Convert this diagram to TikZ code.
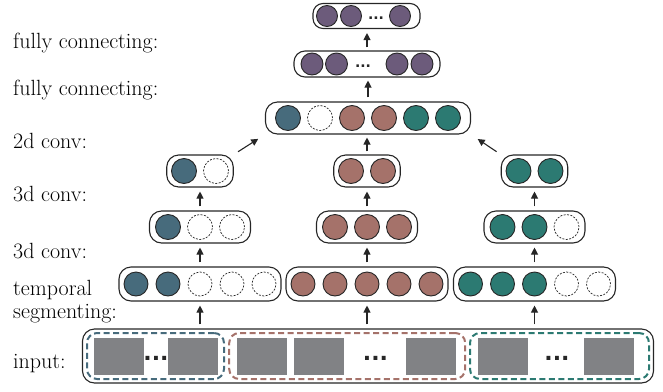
\documentclass[tikz,border=0pt]{standalone}
\usepackage{fontspec}
\usetikzlibrary{arrows.meta,positioning}

\newfontfamily\dotfont{DejaVu Sans}
\definecolor{cblue}{HTML}{476B7C}
\definecolor{cbrown}{HTML}{A5726A}
\definecolor{cteal}{HTML}{2C7A72}
\definecolor{cpurple}{HTML}{6C5B7B}
\definecolor{cgray}{HTML}{818285}
\definecolor{cline}{HTML}{262626}

\tikzset{
  cell/.style={circle, draw=cline, line width=0.9pt, inner sep=0pt, minimum size=25pt},
  bcell/.style={cell, fill=cblue},
  rcell/.style={cell, fill=cbrown},
  gcell/.style={cell, fill=cteal},
  pcell/.style={cell, fill=cpurple},
  ocell/.style={cell, dash pattern=on 2pt off 1.4pt, line width=0.7pt, fill=white},
  row/.style={draw=cline, line width=1.1pt, rounded corners=12pt, minimum height=32pt, inner sep=0pt},
  segbox/.style={dash pattern=on 6pt off 3.5pt, line width=2pt, rounded corners=10pt, minimum height=46pt, inner sep=0pt},
  shot/.style={fill=cgray, minimum width=50pt, minimum height=37pt, inner sep=0pt},
  ell/.style={font=\dotfont\bfseries\fontsize{22}{22}\selectfont, inner sep=0pt, text=cline},
  arr/.style={-{Triangle[length=7pt,width=7pt]}, draw=cline, line width=1.1pt, shorten <=4pt, shorten >=4pt},
  lab/.style={anchor=base west, align=left, inner sep=0pt, font=\fontsize{22}{23}\selectfont}
}

\begin{document}
\begin{tikzpicture}[x=1pt,y=-1pt]
  \useasboundingbox (0,0) rectangle (663,391);

  % labels
  \node[lab] (lfc2) at (13,48) {fully connecting:};
  \node[lab] (lfc1) at (13,95.7) {fully connecting:};
  \node[lab] (lcv) at (13,148) {2d conv:};
  \node[lab] (lk) at (13,201.7) {3d conv:};
  \node[lab] (lm) at (13,258) {3d conv:};
  \node[lab] (lt) at (13,318) {temporal\\segmenting:};
  \node[lab] (lin) at (13,368) {input:};

  % input
  \node[row, rounded corners=12pt, minimum width=571pt, minimum height=54pt] (inp) at (368,356) {};
  \node[segbox, draw=cblue, minimum width=137pt] (s1) at (155.5,356) {};
  \node[segbox, draw=cbrown, minimum width=236pt] (s2) at (347.2,356) {};
  \node[segbox, draw=cteal, minimum width=179pt] (s3) at (559.5,356) {};
  \foreach \x [count=\i] in {119,193,262,319,431,503,609}
    \node[shot] (f\i) at (\x,356) {};
  \foreach \x [count=\i] in {156,375.5,557}
    \node[ell] (d\i) at (\x,358) {...};

  % temporal segmenting
  \node[row, minimum width=162pt, minimum height=34pt] (t1) at (200,284) {};
  \node[row, minimum width=162pt, minimum height=34pt] (t2) at (367,284) {};
  \node[row, minimum width=162pt, minimum height=34pt] (t3) at (534.5,284) {};
  \foreach \x/\s [count=\i] in {136/bcell,168/bcell,200/ocell,232/ocell,264/ocell}
    \node[\s, minimum size=24pt] (t1c\i) at (\x,284) {};
  \foreach \x/\s [count=\i] in {303/rcell,335/rcell,367/rcell,399/rcell,431/rcell}
    \node[\s, minimum size=24pt] (t2c\i) at (\x,284) {};
  \foreach \x/\s [count=\i] in {470.5/gcell,502.5/gcell,534.5/gcell,566.5/ocell,598.5/ocell}
    \node[\s, minimum size=24pt] (t3c\i) at (\x,284) {};

  % first 3d conv
  \node[row, minimum width=101pt] (m1) at (200,227) {};
  \node[row, minimum width=101pt] (m2) at (367,227) {};
  \node[row, minimum width=101pt] (m3) at (534.5,227) {};
  \foreach \x/\s [count=\i] in {168/bcell,200/ocell,232/ocell}
    \node[\s] (m1c\i) at (\x,227) {};
  \foreach \x/\s [count=\i] in {335/rcell,367/rcell,399/rcell}
    \node[\s] (m2c\i) at (\x,227) {};
  \foreach \x/\s [count=\i] in {502.5/gcell,534.5/gcell,566.5/ocell}
    \node[\s] (m3c\i) at (\x,227) {};

  % second 3d conv
  \node[row, minimum width=66.5pt] (k1) at (200,171) {};
  \node[row, minimum width=66.5pt] (k2) at (367,171) {};
  \node[row, minimum width=66.5pt] (k3) at (534.5,171) {};
  \foreach \x/\s [count=\i] in {184/bcell,216/ocell}
    \node[\s] (k1c\i) at (\x,171) {};
  \foreach \x/\s [count=\i] in {351/rcell,383/rcell}
    \node[\s] (k2c\i) at (\x,171) {};
  \foreach \x/\s [count=\i] in {518.5/gcell,550.5/gcell}
    \node[\s] (k3c\i) at (\x,171) {};

  % 2d conv
  \node[row, minimum width=205pt] (cv) at (368,118) {};
  \foreach \x/\s [count=\i] in {288/bcell,320/ocell,352/rcell,384/rcell,416/gcell,448/gcell}
    \node[\s] (cvc\i) at (\x,118) {};

  % fully connecting
  \node[row, rounded corners=11pt, minimum width=146pt, minimum height=26pt] (fc) at (367,64) {};
  \foreach \x [count=\i] in {312,336.5,397,422}
    \node[pcell, minimum size=22pt] (fcc\i) at (\x,64) {};
  \node[ell, font=\dotfont\bfseries\fontsize{14}{14}\selectfont] (fcd) at (363,66) {...};

  \node[row, rounded corners=10pt, minimum width=107pt, minimum height=25pt] (top) at (366.5,16) {};
  \foreach \x [count=\i] in {327,351,400}
    \node[pcell, minimum size=21pt] (topc\i) at (\x,16) {};
  \node[ell, font=\dotfont\bfseries\fontsize{14}{14}\selectfont] (topd) at (376,18) {...};

  % arrows
  \foreach \c in {1,2,3} {
    \draw[arr] (t\c |- inp.north) -- (t\c.south);
    \draw[arr] (t\c.north) -- (m\c.south);
    \draw[arr] (m\c.north) -- (k\c.south);
  }
  \draw[arr, shorten <=3pt, shorten >=3pt] (k2.north) -- (k2.north |- cv.south);
  \draw[arr, shorten <=5pt, shorten >=8pt] (k1.north east) -- (cv.south west);
  \draw[arr, shorten <=5pt, shorten >=8pt] (k3.north west) -- (cv.south east);
  \draw[arr, shorten >=3pt] (cv.north) -- (cv.north |- fc.south);
  \draw[arr, shorten <=3pt] (fc.north) -- (fc.north |- top.south);
\end{tikzpicture}
\end{document}
